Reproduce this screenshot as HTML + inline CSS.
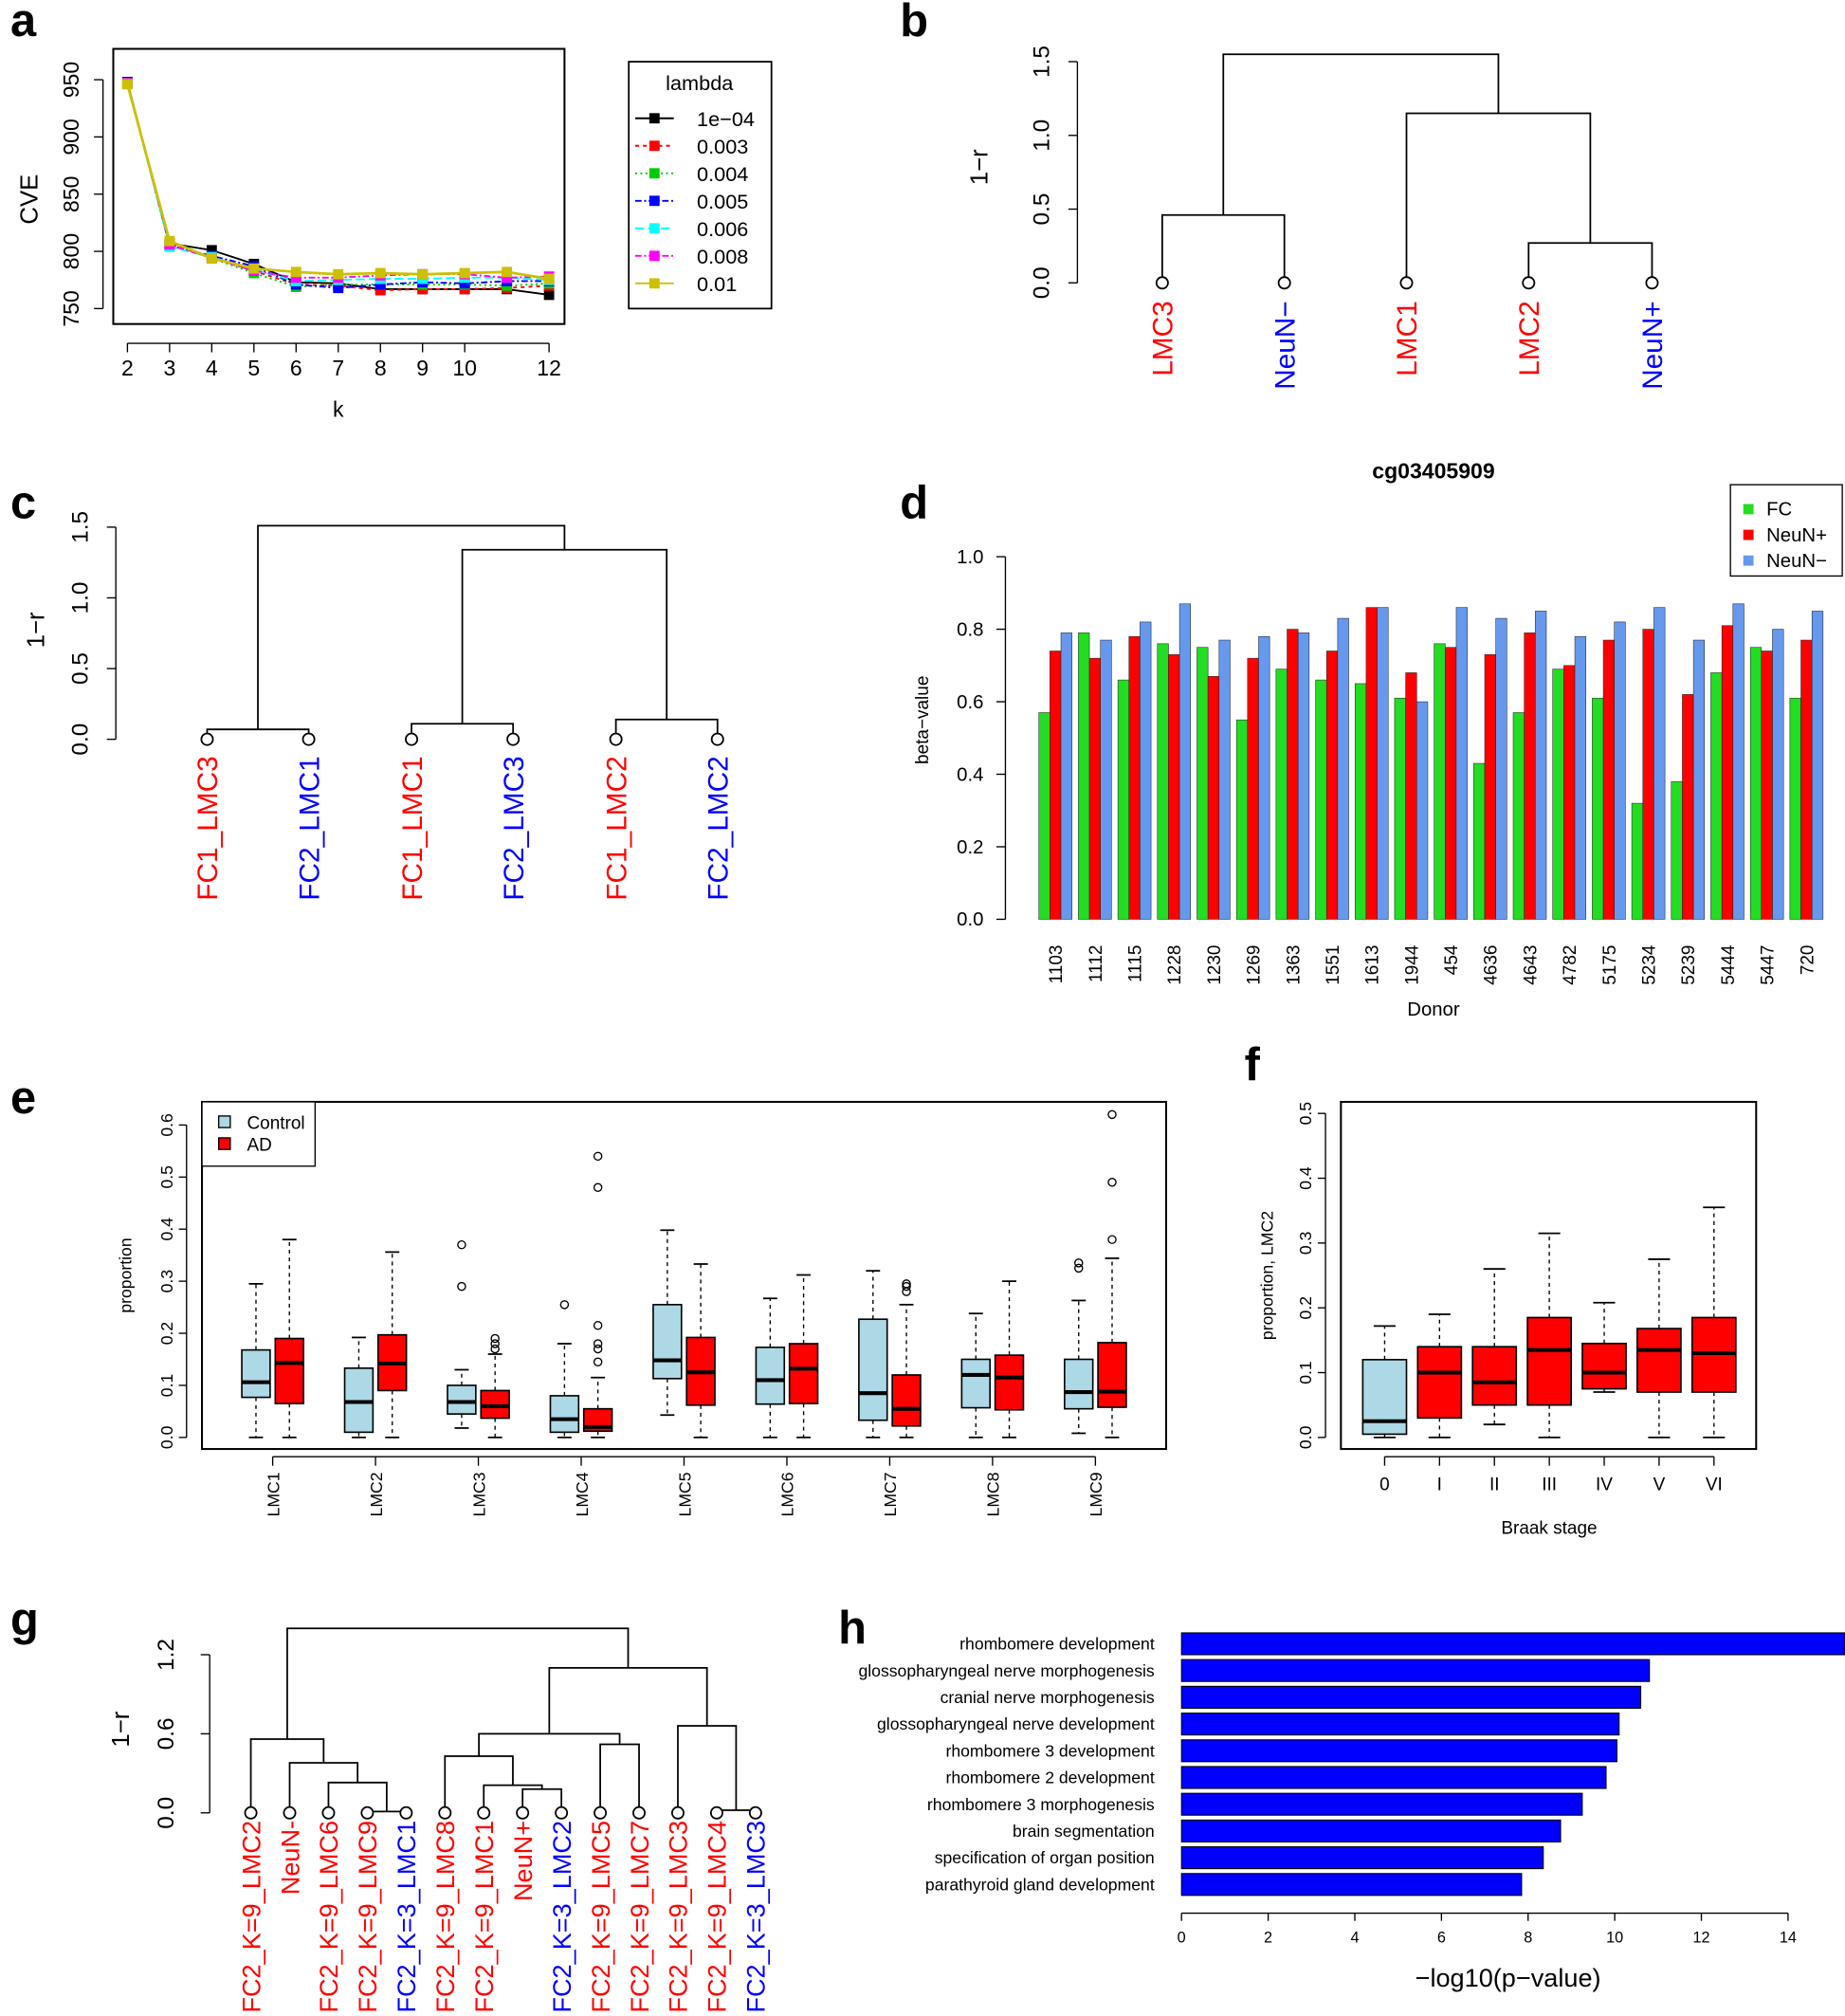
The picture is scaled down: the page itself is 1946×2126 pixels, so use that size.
<!DOCTYPE html>
<html><head><meta charset="utf-8"><style>
html,body{margin:0;padding:0;background:#fff}
svg{display:block;font-family:"Liberation Sans",Arial,sans-serif}
</style></head><body>
<svg id="fig" width="1946" height="2126" viewBox="0 0 1435 1568" xmlns="http://www.w3.org/2000/svg"></svg>
<script>
// ---------- Panel a data ----------
const aK=[2,3,4,5,6,7,8,9,10,11,12];
const aXTicks=[2,3,4,5,6,7,8,9,10,12];
const aYTicks=[750,800,850,900,950];
const aLambdas=["1e\u221204","0.003","0.004","0.005","0.006","0.008","0.01"];
const aS1=[948,807,801,789,773,772,767,767,767,767,762];
const aS2=[947,806,795,783,771,770,766,767,767,768,770];
const aS3=[947,806,794,781,769,771,771,771,771,770,772];
const aS4=[947,805,796,787,771,768,771,773,772,774,774];
const aS5=[947,804,795,784,774,775,776,776,777,777,775];
const aS6=[947,806,794,783,777,777,779,780,780,777,778];
const aS7=[946,809,794,785,782,780,781,780,781,782,776];
// ---------- Panel b ----------
const bLeaves=["LMC3","NeuN\u2212","LMC1","LMC2","NeuN+"];
const bLeafColors=["red","blue","red","red","blue"];
const bMergeL=[-1,-4,-3,1];
const bMergeR=[-2,-5,2,3];
const bMergeH=[0.46,0.27,1.15,1.55];
const bTicks=[0,0.5,1.0,1.5];
// ---------- Panel c ----------
const cLeaves=["FC1_LMC3","FC2_LMC1","FC1_LMC1","FC2_LMC3","FC1_LMC2","FC2_LMC2"];
const cLeafColors=["red","blue","red","blue","red","blue"];
const cMergeL=[-1,-3,-5,2,1];
const cMergeR=[-2,-4,-6,3,4];
const cMergeH=[0.07,0.11,0.14,1.34,1.51];
const cTicks=[0,0.5,1.0,1.5];
// ---------- Panel d ----------
const dDonors=["1103","1112","1115","1228","1230","1269","1363","1551","1613","1944","454","4636","4643","4782","5175","5234","5239","5444","5447","720"];
const dFC=[.57,.79,.66,.76,.75,.55,.69,.66,.65,.61,.76,.43,.57,.69,.61,.32,.38,.68,.75,.61];
const dNeuNp=[.74,.72,.78,.73,.67,.72,.80,.74,.86,.68,.75,.73,.79,.70,.77,.80,.62,.81,.74,.77];
const dNeuNm=[.79,.77,.82,.87,.77,.78,.79,.83,.86,.60,.86,.83,.85,.78,.82,.86,.77,.87,.80,.85];
const dTicks=[0,0.2,0.4,0.6,0.8,1.0];
// ---------- Panel e ----------
const eGroups=["LMC1","LMC2","LMC3","LMC4","LMC5","LMC6","LMC7","LMC8","LMC9"];
const eCtrlStats=[[0,.077,.106,.168,.295],[0,.01,.068,.133,.192],[.018,.045,.068,.10,.13],[0,.01,.035,.08,.18],[.043,.113,.148,.255,.398],[0,.064,.11,.173,.267],[0,.033,.085,.227,.32],[0,.057,.12,.15,.238],[.008,.055,.087,.15,.263]];
const eADStats=[[0,.065,.143,.19,.38],[0,.09,.142,.197,.356],[0,.037,.06,.09,.16],[0,.012,.02,.055,.115],[0,.062,.125,.192,.333],[0,.065,.132,.18,.312],[0,.022,.055,.12,.255],[0,.053,.115,.158,.30],[0,.058,.088,.182,.344]];
const eCtrlOut=[[],[],[.37,.29],[.255],[],[],[],[],[.325,.335]];
const eADOut=[[],[],[.17,.18,.19],[.145,.17,.18,.215,.48,.54],[],[],[.28,.29,.295],[],[.38,.49,.62]];
const eTicks=[0,0.1,0.2,0.3,0.4,0.5,0.6];
// ---------- Panel f ----------
const fStages=["0","I","II","III","IV","V","VI"];
const fStats=[[0,.005,.025,.12,.172],[0,.03,.1,.14,.19],[.02,.05,.085,.14,.26],[0,.05,.135,.185,.315],[.07,.075,.1,.145,.208],[0,.07,.135,.168,.275],[0,.07,.13,.185,.355]];
const fTicks=[0,0.1,0.2,0.3,0.4,0.5];
// ---------- Panel g ----------
const gLeaves=["FC2_K=9_LMC2","NeuN-","FC2_K=9_LMC6","FC2_K=9_LMC9","FC2_K=3_LMC1","FC2_K=9_LMC8","FC2_K=9_LMC1","NeuN+","FC2_K=3_LMC2","FC2_K=9_LMC5","FC2_K=9_LMC7","FC2_K=9_LMC3","FC2_K=9_LMC4","FC2_K=3_LMC3"];
const gLeafColors=["red","red","red","red","blue","red","red","red","blue","red","red","red","red","blue"];
const gMergeL=[-4,-3,-2,-1,-8,-7,-6,-10,7,-13,-12,9,4];
const gMergeR=[-5,1,2,3,-9,5,6,-11,8,-14,10,11,12];
const gMergeH=[.01,.23,.38,.56,.18,.21,.43,.52,.60,.02,.66,1.10,1.40];
const gTicks=[0,0.6,1.2];
// ---------- Panel h ----------
const hTerms=["rhombomere development","glossopharyngeal nerve morphogenesis","cranial nerve morphogenesis","glossopharyngeal nerve development","rhombomere 3 development","rhombomere 2 development","rhombomere 3 morphogenesis","brain segmentation","specification of organ position","parathyroid gland development"];
const hVals=[15.5,10.8,10.6,10.1,10.05,9.8,9.25,8.75,8.35,7.85];
const hTicks=[0,2,4,6,8,10,12,14];

const NS="http://www.w3.org/2000/svg";
const svg=document.getElementById('fig');
function mk(tag,attrs,parent){const e=document.createElementNS(NS,tag);for(const k in attrs)e.setAttribute(k,attrs[k]);(parent||svg).appendChild(e);return e;}
function tx(str,x,y,size,attrs,parent){const e=mk('text',Object.assign({x:x,y:y,'font-size':size},attrs||{}),parent);e.textContent=str;return e;}
function grp(name){const g=mk('g',{});
return g;}

[["a",8,28],["b",700,28],["c",8,403],["d",700,403],["e",8,866],["f",968,840],["g",8,1272],["h",652,1278]].forEach(p=>{
 const t=tx(p[0],p[1],p[2],36,{'font-weight':'bold'});
 
 
});

// ================= Panel a =================
(function(){
 const g=grp('panel-a-line-chart');
 const X=k=>99+(k-2)*32.8, Y=v=>240-(v-750)*0.89;
 const box=mk('rect',{x:88,y:38,width:351,height:214,fill:'none',stroke:'#000','stroke-width':1.5},g);
 
 
 mk('line',{x1:X(2),x2:X(12),y1:267,y2:267,stroke:'#000'},g);
 aXTicks.forEach(k=>{mk('line',{x1:X(k),x2:X(k),y1:267,y2:274,stroke:'#000'},g);
  const t=tx(String(k),X(k),292,17,{'text-anchor':'middle'},g);
  
  });
 mk('line',{x1:80,x2:80,y1:Y(750),y2:Y(950),stroke:'#000'},g);
 aYTicks.forEach(v=>{mk('line',{x1:73,x2:80,y1:Y(v),y2:Y(v),stroke:'#000'},g);
  const t=tx(String(v),61,Y(v),17,{'text-anchor':'middle',transform:`rotate(-90 61 ${Y(v)})`},g);
  
  });
 const yl=tx('CVE',29,155,19,{'text-anchor':'middle',transform:'rotate(-90 29 155)'},g);
 
 
 const xl=tx('k',263,324,17,{'text-anchor':'middle'},g);
 
 
 const series=[aS1,aS2,aS3,aS4,aS5,aS6,aS7];
 const cols=['#000','#ff0000','#00cc00','#0000ff','#00ffff','#ff00ff','#cdc000'];
 const dash=['none','3,3','1.5,2.5','5,2,1.5,2','7,3','5,2,1.5,2','none'];
 series.forEach((s,i)=>{
  const pl=mk('polyline',{points:s.map((v,j)=>X(aK[j])+','+Y(v)).join(' '),fill:'none',stroke:cols[i],'stroke-width':i==6?2:1.4,'stroke-dasharray':dash[i]},g);
  
  
  s.forEach((v,j)=>{const r=mk('rect',{x:X(aK[j])-4,y:Y(v)-4,width:8,height:8,fill:cols[i]},g);
   
   });
 });
 const lg=mk('g',{},g);
 
 
 mk('rect',{x:489,y:48,width:111,height:192,fill:'#fff',stroke:'#000','stroke-width':1.3},lg);
 tx('lambda',544,70,16,{'text-anchor':'middle'},lg);
 aLambdas.forEach((l,i)=>{const y=92+i*21.4;
  mk('line',{x1:494,x2:524,y1:y,y2:y,stroke:cols[i],'stroke-width':1.4,'stroke-dasharray':dash[i]},lg);
  mk('rect',{x:505,y:y-4,width:8,height:8,fill:cols[i]},lg);
  const t=tx(l,542,y+6,16,{},lg);
  
  });
})();

function dendro(g,leafX,baseY,scale,L,R,H,labels,colors,fs,labelY){
 const pos={},hh={};
 function nx(n){return n<0?leafX[-n-1]:pos[n];}
 function nh(n){return n<0?0:hh[n];}
 L.forEach((l,i)=>{const r=R[i],h=H[i],id=i+1;
  const x1=nx(l),x2=nx(r),y=baseY-h*scale;
  const p=mk('path',{d:`M${x1},${baseY-nh(l)*scale}V${y}H${x2}V${baseY-nh(r)*scale}`,fill:'none',stroke:'#000','stroke-width':1.3},g);
  
  
  pos[id]=(x1+x2)/2;hh[id]=h;});
 leafX.forEach((x,i)=>{
  const c=mk('circle',{cx:x,cy:baseY,r:4.5,fill:'#fff',stroke:'#000','stroke-width':1.3},g);
  
  
  const t=tx(labels[i],x+fs*0.36,labelY,fs,{'text-anchor':'end',fill:colors[i],transform:`rotate(-90 ${x+fs*0.36} ${labelY})`},g);
  
  });
}
function yaxisRot(g,x,baseY,scale,ticks,fs,fmt,off){
 off=off||18;
 mk('line',{x1:x,x2:x,y1:baseY,y2:baseY-ticks[ticks.length-1]*scale,stroke:'#000'},g);
 ticks.forEach(v=>{const y=baseY-v*scale;mk('line',{x1:x-7,x2:x,y1:y,y2:y,stroke:'#000'},g);
  const t=tx(fmt(v),x-off,y,fs,{'text-anchor':'middle',transform:`rotate(-90 ${x-off} ${y})`},g);
  
  });
}

(function(){
 const g=grp('panel-b-dendrogram');
 yaxisRot(g,838,220,114.7,bTicks,18,v=>v.toFixed(1),22);
 const t=tx('1\u2212r',768,130,19,{'text-anchor':'middle',transform:'rotate(-90 768 130)'},g);
 
 
 dendro(g,[904,999,1094,1189,1285],220,114.7,bMergeL,bMergeR,bMergeH,bLeaves,bLeafColors,22,234);
})();
(function(){
 const g=grp('panel-c-dendrogram');
 yaxisRot(g,90,575,110,cTicks,18,v=>v.toFixed(1),22);
 const t=tx('1\u2212r',34,490,19,{'text-anchor':'middle',transform:'rotate(-90 34 490)'},g);
 
 
 dendro(g,[161,240,320,399,479,558],575,110,cMergeL,cMergeR,cMergeH,cLeaves,cLeafColors,22,588);
})();

(function(){
 const g=grp('panel-d-bar-chart');
 const Y=v=>715-v*282, GX=i=>808+i*30.75;
 const tt=tx('cg03405909',1115,372,17,{'text-anchor':'middle','font-weight':'bold'},g);
 
 
 mk('line',{x1:782,x2:782,y1:Y(0),y2:Y(1),stroke:'#000'},g);
 dTicks.forEach(v=>{mk('line',{x1:775,x2:782,y1:Y(v),y2:Y(v),stroke:'#000'},g);
  const t=tx(v.toFixed(1),765,Y(v)+5,15,{'text-anchor':'end'},g);
  
  });
 const yl=tx('beta\u2212value',722,560,14,{'text-anchor':'middle',transform:'rotate(-90 722 560)'},g);
 
 
 const cols=['#22dd22','#ff0000','#6699ee'];
 [dFC,dNeuNp,dNeuNm].forEach((s,k)=>s.forEach((v,i)=>{
  const r=mk('rect',{x:GX(i)+k*8.6,y:Y(v),width:8.6,height:v*282,fill:cols[k],stroke:'#222','stroke-width':0.4},g);
  
  }));
 dDonors.forEach((d,i)=>{const x=GX(i)+13+5;
  const t=tx(d,x,735,14,{'text-anchor':'end',transform:`rotate(-90 ${x} 735)`},g);
  
  });
 const xl=tx('Donor',1115,790,15,{'text-anchor':'middle'},g);
 
 
 const lg=mk('g',{},g);
 
 
 mk('rect',{x:1346,y:377,width:87,height:71,fill:'#fff',stroke:'#000'},lg);
 ["FC","NeuN+","NeuN\u2212"].forEach((l,i)=>{mk('rect',{x:1356,y:392+i*20,width:8,height:8,fill:cols[i]},lg);
  const t=tx(l,1374,401+i*20,15,{},lg);
  
  });
})();

function boxp(g,cx,w,st,outs,Y,fill){
 const [mn,q1,md,q3,mx]=st;
 mk('line',{x1:cx,x2:cx,y1:Y(q3),y2:Y(mx),stroke:'#000','stroke-dasharray':'3,3'},g);
 mk('line',{x1:cx,x2:cx,y1:Y(q1),y2:Y(mn),stroke:'#000','stroke-dasharray':'3,3'},g);
 mk('line',{x1:cx-w/4,x2:cx+w/4,y1:Y(mx),y2:Y(mx),stroke:'#000','stroke-width':1.3},g);
 mk('line',{x1:cx-w/4,x2:cx+w/4,y1:Y(mn),y2:Y(mn),stroke:'#000','stroke-width':1.3},g);
 const r=mk('rect',{x:cx-w/2,y:Y(q3),width:w,height:Y(q1)-Y(q3),fill:fill,stroke:'#000','stroke-width':1.2},g);
 
 
 mk('line',{x1:cx-w/2,x2:cx+w/2,y1:Y(md),y2:Y(md),stroke:'#000','stroke-width':3},g);
 outs.forEach(o=>{const c=mk('circle',{cx:cx,cy:Y(o),r:3,fill:'none',stroke:'#000'},g);
  
  });
}

(function(){
 const g=grp('panel-e-boxplot');
 const Y=v=>1118-v*405, GX=i=>212+i*80;
 mk('rect',{x:157,y:857,width:750,height:270,fill:'none',stroke:'#000','stroke-width':1.5},g);
 mk('line',{x1:145,x2:145,y1:Y(0),y2:Y(0.6),stroke:'#000'},g);
 eTicks.forEach(v=>{mk('line',{x1:139,x2:145,y1:Y(v),y2:Y(v),stroke:'#000'},g);
  const t=tx(v.toFixed(1),134,Y(v),13,{'text-anchor':'middle',transform:`rotate(-90 134 ${Y(v)})`},g);
  
  });
 const yl=tx('proportion',102,992,13,{'text-anchor':'middle',transform:'rotate(-90 102 992)'},g);
 
 
 mk('line',{x1:GX(0),x2:GX(8),y1:1133,y2:1133,stroke:'#000'},g);
 eGroups.forEach((n,i)=>{
  boxp(g,GX(i)-13,22,eCtrlStats[i],eCtrlOut[i],Y,'#add8e6');
  boxp(g,GX(i)+13,22,eADStats[i],eADOut[i],Y,'#ff0000');
  mk('line',{x1:GX(i),x2:GX(i),y1:1133,y2:1140,stroke:'#000'},g);
  const t=tx(n,GX(i)+5,1145,13,{'text-anchor':'end',transform:`rotate(-90 ${GX(i)+5} 1145)`},g);
  
  });
 const lg=mk('g',{},g);
 
 
 mk('rect',{x:157,y:857,width:88,height:50,fill:'#fff',stroke:'#000'},lg);
 [['Control','#add8e6'],['AD','#ff0000']].forEach((e,i)=>{mk('rect',{x:170,y:868+i*17,width:9,height:9,fill:e[1],stroke:'#000'},lg);
  const t=tx(e[0],192,878+i*17,14,{},lg);
  
  });
})();

(function(){
 const g=grp('panel-f-boxplot');
 const Y=v=>1118-v*504, GX=i=>1077+i*42.7;
 mk('rect',{x:1043,y:857,width:323,height:270,fill:'none',stroke:'#000','stroke-width':1.5},g);
 mk('line',{x1:1031,x2:1031,y1:Y(0),y2:Y(0.5),stroke:'#000'},g);
 fTicks.forEach(v=>{mk('line',{x1:1025,x2:1031,y1:Y(v),y2:Y(v),stroke:'#000'},g);
  const t=tx(v.toFixed(1),1020,Y(v),13,{'text-anchor':'middle',transform:`rotate(-90 1020 ${Y(v)})`},g);
  
  });
 const yl=tx('proportion, LMC2',990,992,13,{'text-anchor':'middle',transform:'rotate(-90 990 992)'},g);
 
 
 fStages.forEach((s,i)=>{
  boxp(g,GX(i),34,fStats[i],[],Y,i==0?'#add8e6':'#ff0000');
  mk('line',{x1:GX(i),x2:GX(i),y1:1133,y2:1140,stroke:'#000'},g);
  const t=tx(s,GX(i),1159,14,{'text-anchor':'middle'},g);
  
  });
 mk('line',{x1:GX(0),x2:GX(6),y1:1133,y2:1133,stroke:'#000'},g);
 const xl=tx('Braak stage',1205,1193,14,{'text-anchor':'middle'},g);
 
 
})();

(function(){
 const g=grp('panel-g-dendrogram');
 yaxisRot(g,163,1410,102.5,gTicks,18,v=>v.toFixed(1),28);
 const t=tx('1\u2212r',100,1345,19,{'text-anchor':'middle',transform:'rotate(-90 100 1345)'},g);
 
 
 const lx=gLeaves.map((_,i)=>195+i*30.2);
 dendro(g,lx,1410,102.5,gMergeL,gMergeR,gMergeH,gLeaves,gLeafColors,20,1416);
})();

(function(){
 const g=grp('panel-h-bar-chart');
 const X=v=>919+v*33.7, BY=i=>1270+i*20.8;
 hTerms.forEach((n,i)=>{
  const w=Math.min(X(hVals[i]),1435)-919;
  const r=mk('rect',{x:919,y:BY(i),width:w,height:17,fill:'#0000ff',stroke:'#000','stroke-width':0.8},g);
  
  
  const t=tx(n,898,BY(i)+13,13,{'text-anchor':'end'},g);
  
  });
 mk('line',{x1:X(0),x2:X(14),y1:1488,y2:1488,stroke:'#000'},g);
 hTicks.forEach(v=>{mk('line',{x1:X(v),x2:X(v),y1:1488,y2:1494,stroke:'#000'},g);
  const t=tx(String(v),X(v),1511,12,{'text-anchor':'middle'},g);
  
  });
 const xl=tx('\u2212log10(p\u2212value)',1173,1545,20,{'text-anchor':'middle'},g);
 
 
})();
</script>
</body></html>
